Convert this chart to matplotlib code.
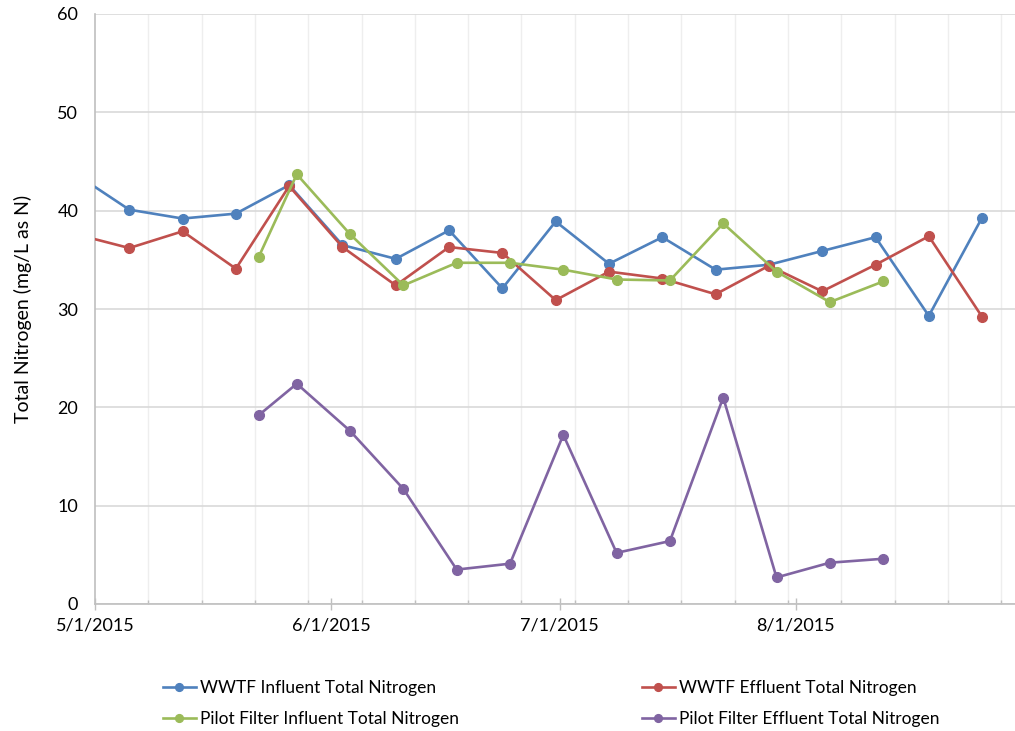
import datetime as dt

import matplotlib.pyplot as plt
import matplotlib.dates as mdates
from matplotlib.ticker import FixedLocator, FuncFormatter

plt.rcParams['font.family'] = ['Lato', 'DejaVu Sans']

# weekly samples at the treatment plant
wwtf_dates = ['2015-04-28', '2015-05-05', '2015-05-12', '2015-05-19', '2015-05-26', '2015-06-02',
              '2015-06-09', '2015-06-16', '2015-06-23', '2015-06-30', '2015-07-07', '2015-07-14',
              '2015-07-21', '2015-07-28', '2015-08-04', '2015-08-11', '2015-08-18', '2015-08-25']
wwtf_influent = [43.7, 40.1, 39.2, 39.7, 42.6, 36.5, 35.1, 38.0, 32.1, 38.9, 34.6, 37.3,
                 34.0, 34.5, 35.9, 37.3, 29.3, 39.3]
wwtf_effluent = [37.6, 36.2, 37.9, 34.1, 42.5, 36.3, 32.4, 36.3, 35.7, 30.9, 33.8, 33.1,
                 31.5, 34.4, 31.8, 34.5, 37.4, 29.2]

# pilot filter samples
pilot_dates = ['2015-05-22', '2015-05-27', '2015-06-03', '2015-06-10', '2015-06-17', '2015-06-24',
               '2015-07-01', '2015-07-08', '2015-07-15', '2015-07-22', '2015-07-29', '2015-08-05',
               '2015-08-12']
pilot_influent = [35.3, 43.7, 37.6, 32.4, 34.7, 34.7, 34.0, 33.0, 32.9, 38.7, 33.8, 30.7, 32.8]
pilot_effluent = [19.2, 22.4, 17.6, 11.7, 3.5, 4.1, 17.2, 5.2, 6.4, 21.0, 2.7, 4.2, 4.6]


def to_x(dates):
    # points sit in the middle of their day, like an Excel date axis
    return [dt.datetime.strptime(d, '%Y-%m-%d') + dt.timedelta(hours=12) for d in dates]


fig = plt.figure(figsize=(10.15, 7.31), dpi=100)
ax = fig.add_axes([95 / 1015, 1 - 604 / 731, 929 / 1015, 590 / 731])

series = [
    (to_x(wwtf_dates), wwtf_influent, '#4F81BD', 'WWTF Influent Total Nitrogen'),
    (to_x(wwtf_dates), wwtf_effluent, '#C0504D', 'WWTF Effluent Total Nitrogen'),
    (to_x(pilot_dates), pilot_influent, '#9BBB59', 'Pilot Filter Influent Total Nitrogen'),
    (to_x(pilot_dates), pilot_effluent, '#8064A2', 'Pilot Filter Effluent Total Nitrogen'),
]
lines = {}
for x, y, c, name in series:
    ln, = ax.plot(x, y, color=c, lw=1.9, marker='o', ms=7, label=name, zorder=3)
    lines[name] = ln

start = dt.datetime(2015, 5, 1)
end = dt.datetime(2015, 8, 31)
ax.set_xlim(start, end)
ax.set_ylim(0, 60)
ax.set_yticks(range(0, 61, 10))

weeks = mdates.drange(start, end, dt.timedelta(days=7))
ax.xaxis.set_minor_locator(FixedLocator(weeks))
ax.xaxis.set_major_locator(mdates.MonthLocator(bymonthday=1))
ax.xaxis.set_major_formatter(FuncFormatter(
    lambda v, p: '{d.month}/{d.day}/{d.year}'.format(d=mdates.num2date(v))))

ax.grid(which='minor', axis='x', color='#EEEEEE', lw=1, zorder=0)
ax.grid(which='major', axis='y', color='#D9D9D9', lw=1.2, zorder=0)
ax.set_axisbelow(True)

for s in ['top', 'right']:
    ax.spines[s].set_visible(False)
for s in ['left', 'bottom']:
    ax.spines[s].set_color('#BFBFBF')
    ax.spines[s].set_linewidth(1.2)

ax.tick_params(axis='y', length=0, pad=12, labelsize=13)
ax.tick_params(axis='x', which='major', direction='inout', length=9, width=1,
               color='#BFBFBF', pad=5, labelsize=13)
ax.tick_params(axis='x', which='minor', direction='in', length=3, width=1, color='#BFBFBF')

ax.set_ylabel('Total Nitrogen (mg/L as N)', fontsize=14, labelpad=18)

order = ['WWTF Influent Total Nitrogen', 'Pilot Filter Influent Total Nitrogen',
         'WWTF Effluent Total Nitrogen', 'Pilot Filter Effluent Total Nitrogen']
fig.legend([lines[n] for n in order], order, loc='center', bbox_to_anchor=(0.543, 0.0376),
           ncol=2, frameon=False, fontsize=12.5, handlelength=1.9, handletextpad=0.25,
           columnspacing=10.5, labelspacing=0.85, markerscale=0.8)

fig.savefig('out.png', dpi=100)
